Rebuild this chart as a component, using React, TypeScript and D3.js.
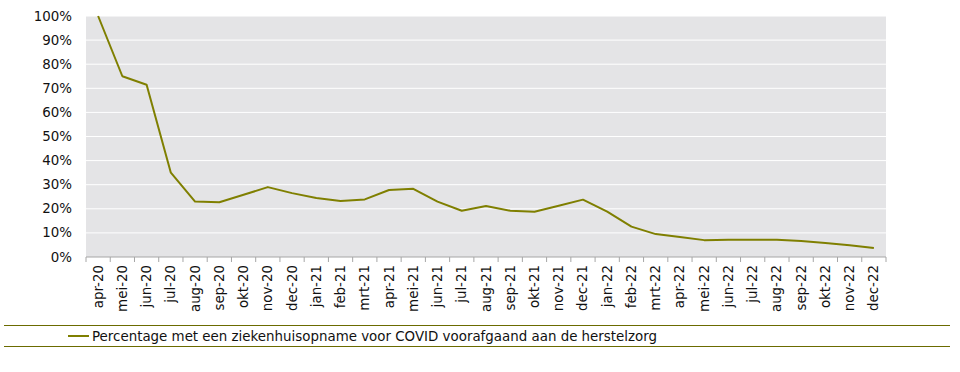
import { useEffect, useRef } from "react";
import * as d3 from "d3";

const W = 960;
const H = 372;
const M = { left: 86, right: 74, top: 16, bottom: 115 };
const LINE_COLOR = "#7f7f00";
const FONT = "'DejaVu Sans', Verdana, sans-serif";
const FS = 13.4;

const MONTHS = [
  "apr-20", "mei-20", "jun-20", "jul-20", "aug-20", "sep-20", "okt-20", "nov-20", "dec-20",
  "jan-21", "feb-21", "mrt-21", "apr-21", "mei-21", "jun-21", "jul-21", "aug-21", "sep-21",
  "okt-21", "nov-21", "dec-21", "jan-22", "feb-22", "mrt-22", "apr-22", "mei-22", "jun-22",
  "jul-22", "aug-22", "sep-22", "okt-22", "nov-22", "dec-22",
];

const PCT = [
  100, 75, 71.5, 35, 23, 22.7, 25.8, 29, 26.5,
  24.5, 23.2, 23.9, 27.8, 28.3, 23, 19.2, 21.2, 19.2,
  18.8, 21.3, 23.8, 18.8, 12.6, 9.5, 8.3, 7.0, 7.2,
  7.2, 7.2, 6.6, 5.8, 4.9, 3.7,
];

const Y_TICKS = [0, 10, 20, 30, 40, 50, 60, 70, 80, 90, 100];
const SERIES_LABEL = "Percentage met een ziekenhuisopname voor COVID voorafgaand aan de herstelzorg";

export default function App() {
  const ref = useRef<SVGSVGElement>(null);

  useEffect(() => {
    if (!ref.current) return;
    const svg = d3.select(ref.current);
    svg.selectAll("*").remove();

    const iw = W - M.left - M.right;
    const ih = H - M.top - M.bottom;
    const x = d3.scaleBand<string>().domain(MONTHS).range([M.left, M.left + iw]);
    const y = d3.scaleLinear().domain([0, 100]).range([M.top + ih, M.top]);

    // plot background
    svg.append("rect")
      .attr("x", M.left).attr("y", M.top).attr("width", iw).attr("height", ih)
      .attr("fill", "#e4e4e6");

    // gridlines + y labels
    Y_TICKS.forEach((t) => {
      if (t > 0) {
        svg.append("line")
          .attr("x1", M.left).attr("x2", M.left + iw)
          .attr("y1", y(t)).attr("y2", y(t))
          .attr("stroke", "#fff").attr("stroke-width", 1);
      }
      svg.append("text")
        .attr("x", M.left - 14).attr("y", y(t))
        .attr("text-anchor", "end").attr("dominant-baseline", "central")
        .attr("font-family", FONT).attr("font-size", FS).attr("fill", "#111")
        .text(`${t}%`);
    });

    // x axis
    const base = y(0);
    svg.append("line")
      .attr("x1", M.left).attr("x2", M.left + iw)
      .attr("y1", base).attr("y2", base)
      .attr("stroke", "#a6a6a6").attr("stroke-width", 1);
    [...MONTHS.map((m) => x(m) as number), M.left + iw].forEach((tx) => {
      svg.append("line")
        .attr("x1", tx).attr("x2", tx).attr("y1", base).attr("y2", base + 5)
        .attr("stroke", "#a6a6a6").attr("stroke-width", 1);
    });
    MONTHS.forEach((m) => {
      const cx = (x(m) as number) + x.bandwidth() / 2;
      svg.append("text")
        .attr("transform", `translate(${cx},${base + 8}) rotate(-90)`)
        .attr("text-anchor", "end").attr("dominant-baseline", "central")
        .attr("font-family", FONT).attr("font-size", FS).attr("fill", "#111")
        .text(m);
    });

    // series line
    const line = d3.line<number>()
      .x((_, i) => (x(MONTHS[i]) as number) + x.bandwidth() / 2)
      .y((d) => y(d));
    svg.append("path")
      .attr("d", line(PCT) as string)
      .attr("fill", "none").attr("stroke", LINE_COLOR).attr("stroke-width", 2)
      .attr("stroke-linejoin", "round");

    // legend
    [325.5, 346.5].forEach((ly) => {
      svg.append("line")
        .attr("x1", 4).attr("x2", 950).attr("y1", ly).attr("y2", ly)
        .attr("stroke", "#6b6b00").attr("stroke-width", 1);
    });
    svg.append("line")
      .attr("x1", 68).attr("x2", 89).attr("y1", 336).attr("y2", 336)
      .attr("stroke", LINE_COLOR).attr("stroke-width", 2);
    svg.append("text")
      .attr("x", 92).attr("y", 336)
      .attr("dominant-baseline", "central")
      .attr("font-family", FONT).attr("font-size", FS).attr("fill", "#111")
      .text(SERIES_LABEL);
  }, []);

  return (
    <svg
      ref={ref}
      width={W}
      height={H}
      viewBox={`0 0 ${W} ${H}`}
      style={{ position: "absolute", left: 0, top: 0, display: "block" }}
    />
  );
}
